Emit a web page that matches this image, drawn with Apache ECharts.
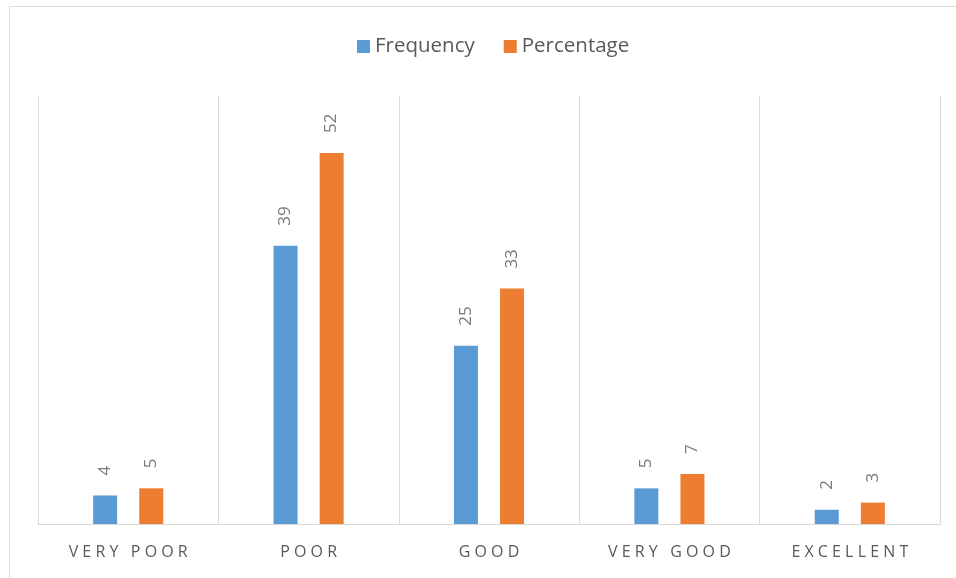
<!DOCTYPE html>
<html>
<head>
<meta charset="utf-8">
<script src="https://cdn.jsdelivr.net/npm/echarts@6/dist/echarts.min.js"></script>
<style>
  html, body { margin: 0; padding: 0; background: #fff; }
  #chart { width: 956px; height: 578px; }
</style>
</head>
<body>
<div id="chart"></div>
<script>
// Rating categories and the two series drawn for each
const categories = ['VERY POOR', 'POOR', 'GOOD', 'VERY GOOD', 'EXCELLENT'];
const frequency = [4, 39, 25, 5, 2];
const percentage = [5, 52, 33, 7, 3];

const FONT = '"Open Sans", "Noto Sans", sans-serif';
const TEXT = '#595959';
const GRID = '#d9d9d9';

// spread letters apart for the wide-tracked category captions
const spaced = s => s.split(' ').map(w => w.split('').join(' ')).join('   ');

const valueLabel = {
  show: true,
  position: 'top',
  rotate: 90,
  align: 'left',
  verticalAlign: 'middle',
  distance: 20,
  color: '#7a7a7a',
  fontFamily: FONT,
  fontSize: 17
};

const chart = echarts.init(document.getElementById('chart'));
chart.setOption({
  animation: false,
  backgroundColor: '#fff',
  graphic: [{
    type: 'rect',
    shape: { x: 9.5, y: 6.5, width: 960, height: 600 },
    style: { fill: 'none', stroke: GRID, lineWidth: 1 },
    silent: true
  }],
  legend: {
    top: 31,
    left: 352,
    itemWidth: 13,
    itemHeight: 13,
    itemGap: 29,
    icon: 'rect',
    textStyle: { color: TEXT, fontFamily: FONT, fontSize: 20.5 },
    data: ['Frequency', 'Percentage']
  },
  grid: { left: 38, right: 16, top: 96, bottom: 54 },
  xAxis: {
    type: 'category',
    data: categories,
    boundaryGap: true,
    axisLine: { lineStyle: { color: GRID, width: 1 } },
    axisTick: { show: false },
    splitLine: { show: true, interval: 0, lineStyle: { color: GRID, width: 1 } },
    axisLabel: {
      margin: 20,
      color: TEXT,
      fontFamily: FONT,
      fontSize: 16,
      interval: 0,
      formatter: spaced
    }
  },
  yAxis: {
    type: 'value',
    min: 0,
    max: 60,
    show: false,
    splitLine: { show: false }
  },
  series: [
    {
      name: 'Frequency',
      type: 'bar',
      data: frequency,
      barWidth: 24,
      barGap: '92%',
      itemStyle: { color: '#5B9BD5' },
      label: valueLabel
    },
    {
      name: 'Percentage',
      type: 'bar',
      data: percentage,
      barWidth: 24,
      itemStyle: { color: '#ED7D31' },
      label: valueLabel
    }
  ]
});
</script>
</body>
</html>
